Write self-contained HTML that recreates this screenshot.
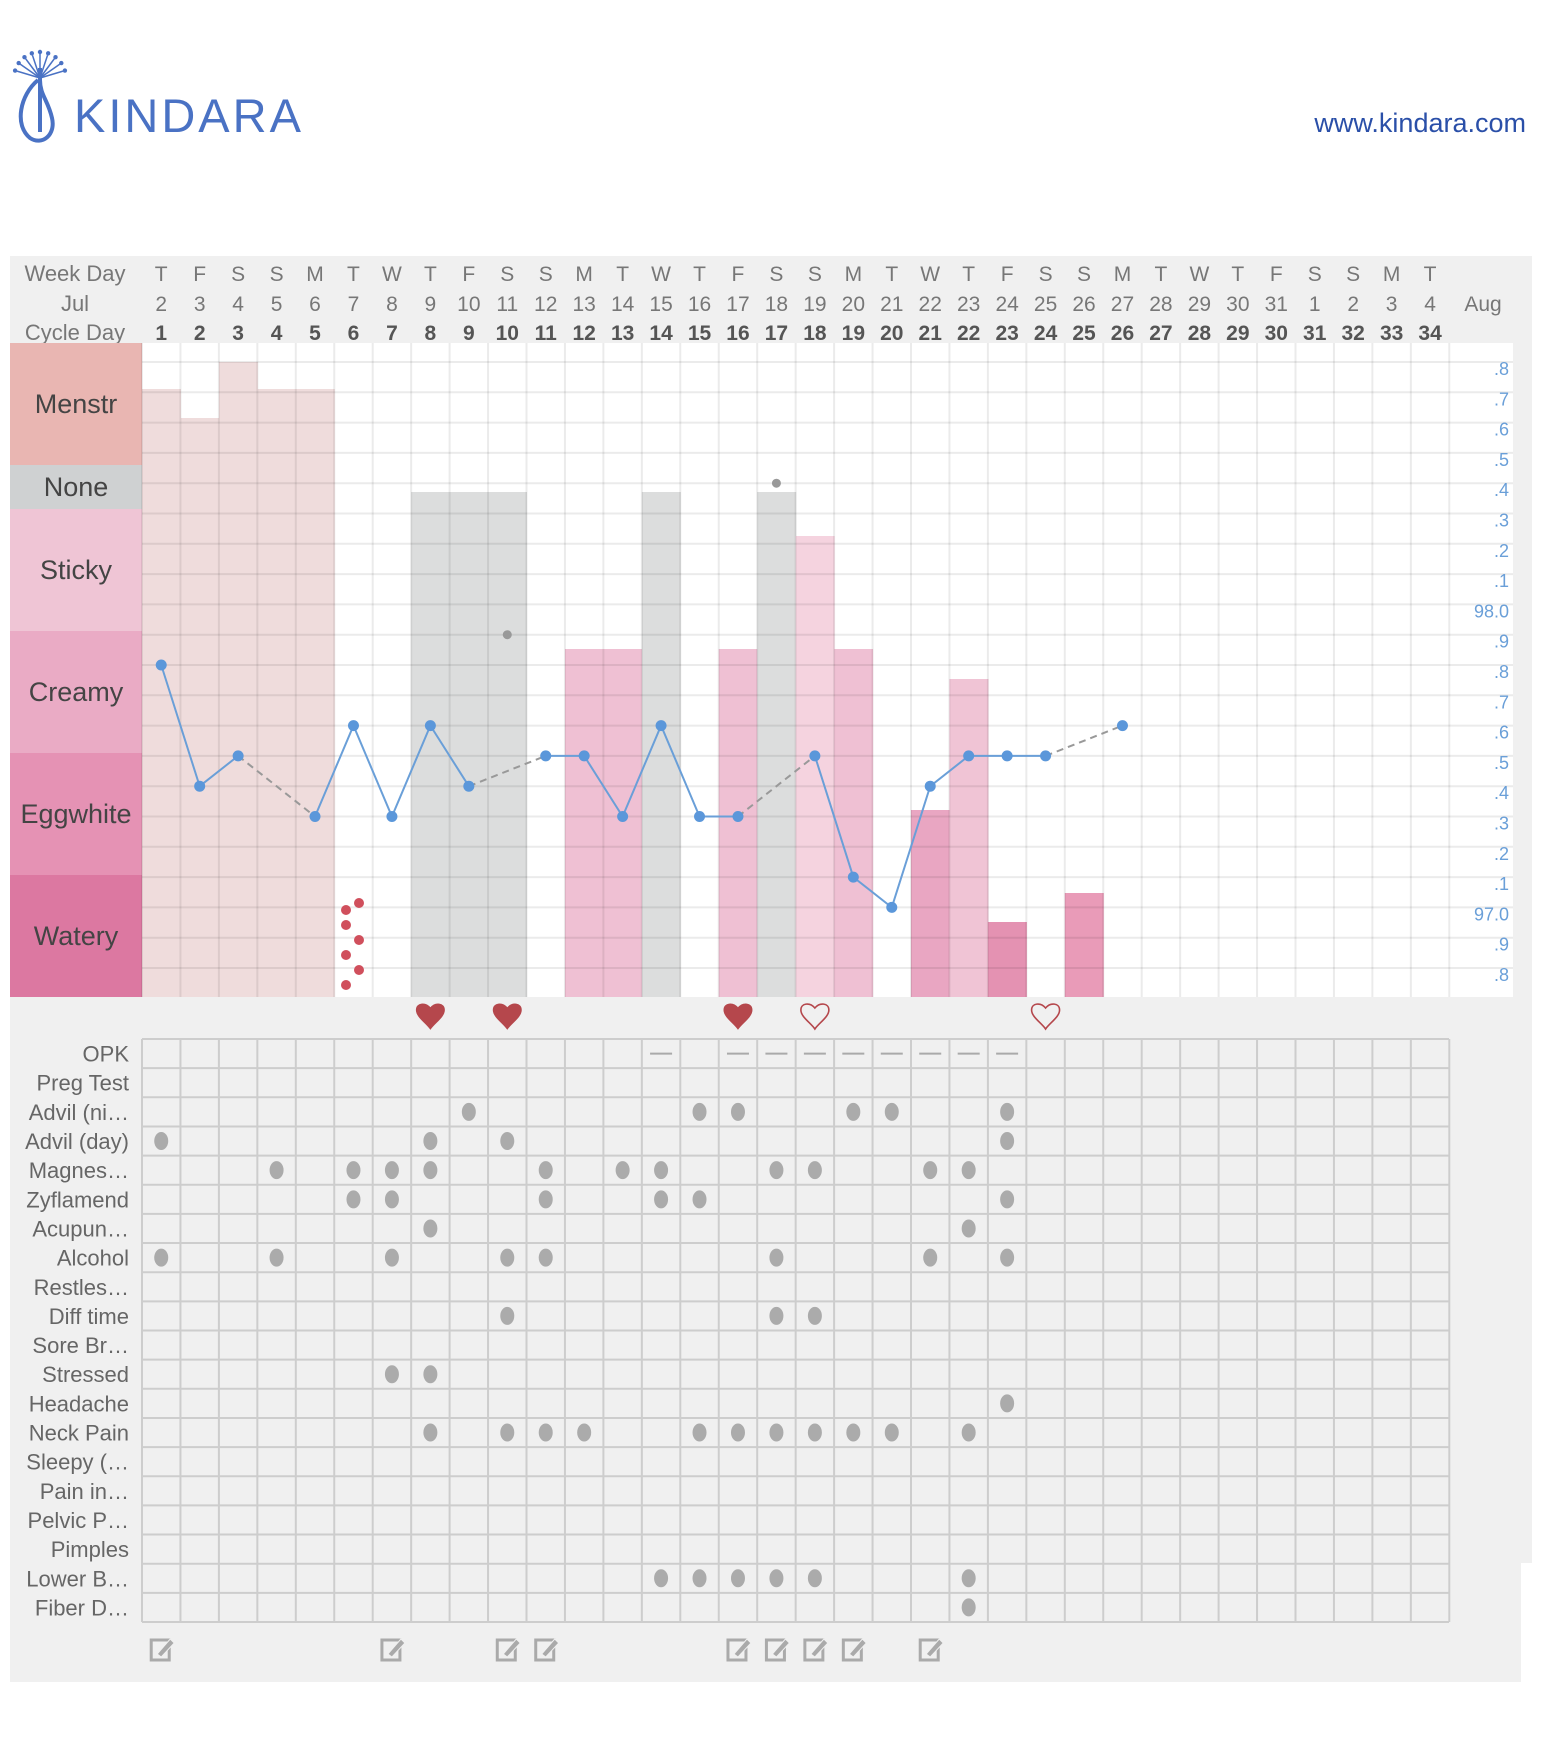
<!DOCTYPE html>
<html><head><meta charset="utf-8"><style>
body{margin:0;background:#fff;width:1541px;height:1737px;overflow:hidden;font-family:"Liberation Sans",sans-serif}
svg{display:block}
</style></head><body>
<svg id="s" width="1541" height="1737" xmlns="http://www.w3.org/2000/svg" font-family="Liberation Sans, sans-serif"></svg>
<script>
const S=document.getElementById('s');let h='';
const X0=142,CW=38.45,cx=d=>X0+(d-0.5)*CW;
// logo
h+=`<g fill="none" stroke="#4a72c4" stroke-width="4"><path d="M38 80 C20 95 14 125 30 138 C42 146 56 135 52 118 C48 100 40 95 40 80"/><line x1="40" y1="68" x2="40" y2="132"/></g>`;
for(let i=0;i<9;i++){const a=-Math.PI/2+(i-4)*0.32;h+=`<line x1="40" y1="78" x2="${40+Math.cos(a)*24}" y2="${78+Math.sin(a)*24}" stroke="#4a72c4" stroke-width="1.5"/><circle cx="${40+Math.cos(a)*26}" cy="${78+Math.sin(a)*26}" r="2.2" fill="#4a72c4"/>`;}
h+=`<text x="74" y="132" font-size="47" fill="#4a72c4" letter-spacing="3" font-weight="300">KINDARA</text>`;
h+=`<text x="1526" y="132" font-size="27" fill="#2a4fa8" text-anchor="end">www.kindara.com</text>`;
// panel
h+=`<rect x="10" y="256" width="1522" height="1307" fill="#f0f0f0"/><rect x="10" y="1560" width="1511" height="122" fill="#f0f0f0"/>`;
// header
const wd="TFSSMTW";
h+=`<g font-size="22" fill="#777"><text x="75" y="281" text-anchor="middle">Week Day</text><text x="75" y="311" text-anchor="middle">Jul</text><text x="75" y="340" text-anchor="middle">Cycle Day</text>`;
for(let d=1;d<=34;d++){const c=cx(d);const dt=d<=30?d+1:d-30;
h+=`<text x="${c}" y="281" text-anchor="middle" font-size="21">${wd[(d-1)%7]}</text><text x="${c}" y="311" text-anchor="middle" font-size="21">${dt}</text><text x="${c}" y="340" text-anchor="middle" font-size="21" font-weight="bold" fill="#555">${d}</text>`;}
h+=`<text x="1483" y="311" text-anchor="middle" font-size="21">Aug</text></g>`;
// chart area
h+=`<rect x="142" y="343" width="1371" height="654" fill="#fff"/>`;
const bands=[["Menstr",343,465,"#e9b6b2"],["None",465,509,"#cfd1d2"],["Sticky",509,631,"#efc5d5"],["Creamy",631,753,"#eaabc5"],["Eggwhite",753,875,"#e592b4"],["Watery",875,997,"#dc78a1"]];
bands.forEach(b=>{h+=`<rect x="10" y="${b[1]}" width="132" height="${b[2]-b[1]}" fill="${b[3]}"/><text x="76" y="${(b[1]+b[2])/2+9}" text-anchor="middle" font-size="27" fill="#444">${b[0]}</text>`;});
const bars={1:[389,"#efdcdc"],2:[418,"#efdcdc"],3:[362,"#efdcdc"],4:[389,"#efdcdc"],5:[389,"#efdcdc"],8:[492,"#dcdddd"],9:[492,"#dcdddd"],10:[492,"#dcdddd"],12:[649,"#efc0d3"],13:[649,"#efc0d3"],14:[492,"#dcdddd"],16:[649,"#efc0d3"],17:[492,"#dcdddd"],18:[536,"#f5d3df"],19:[649,"#efc0d3"],21:[810,"#e9a6c2"],22:[679,"#f0c4d5"],23:[922,"#e492b2"],25:[893,"#e99bb8"]};
for(const d in bars){h+=`<rect x="${X0+(d-1)*CW}" y="${bars[d][0]}" width="${CW+0.5}" height="${997-bars[d][0]}" fill="${bars[d][1]}"/>`;}
// grid
h+=`<g stroke="#000" stroke-opacity="0.08" stroke-width="2">`;
for(let d=0;d<=34;d++)h+=`<line x1="${X0+d*CW}" y1="343" x2="${X0+d*CW}" y2="997"/>`;
for(let i=0;i<21;i++){const y=362+i*30.3;h+=`<line x1="142" y1="${y}" x2="1513" y2="${y}"/>`;}
h+=`</g>`;
// temp labels
const tl=[".8",".7",".6",".5",".4",".3",".2",".1","98.0",".9",".8",".7",".6",".5",".4",".3",".2",".1","97.0",".9",".8"];
tl.forEach((t,i)=>{h+=`<text x="1509" y="${362+i*30.3+13}" text-anchor="end" font-size="18" fill="#6a9fd8">${t}</text>`;});
// spotting
[[346,910],[359,903],[346,925],[359,940],[346,955],[359,970],[346,985]].forEach(p=>h+=`<circle cx="${p[0]}" cy="${p[1]}" r="5" fill="#d04f5c"/>`);
// temps
const ty=t=>362+(98.8-t)*303;
const T={1:97.8,2:97.4,3:97.5,5:97.3,6:97.6,7:97.3,8:97.6,9:97.4,11:97.5,12:97.5,13:97.3,14:97.6,15:97.3,16:97.3,18:97.5,19:97.1,20:97.0,21:97.4,22:97.5,23:97.5,24:97.5,26:97.6};
const segs=[[1,2,3],[5,6,7,8,9],[11,12,13,14,15,16],[18,19,20,21,22,23,24]];
segs.forEach(s=>{h+=`<polyline fill="none" stroke="#6a9fd8" stroke-width="2" points="${s.map(d=>cx(d)+','+ty(T[d])).join(' ')}"/>`;});
[[3,5],[9,11],[16,18],[24,26]].forEach(p=>{h+=`<line x1="${cx(p[0])}" y1="${ty(T[p[0]])}" x2="${cx(p[1])}" y2="${ty(T[p[1]])}" stroke="#999" stroke-width="2" stroke-dasharray="7,5"/>`;});
for(const d in T)h+=`<circle cx="${cx(+d)}" cy="${ty(T[d])}" r="5.5" fill="#5b97da"/>`;
h+=`<circle cx="${cx(10)}" cy="${ty(97.9)}" r="4.5" fill="#999"/><circle cx="${cx(17)}" cy="${ty(98.4)}" r="4.5" fill="#999"/>`;
// hearts
const heart=(d,f)=>{const x=cx(d),y=1005;return `<path d="M${x} ${y+24} C${x-4} ${y+18} ${x-14} ${y+12} ${x-14} ${y+5} C${x-14} ${y-2} ${x-5} ${y-3} ${x} ${y+3} C${x+5} ${y-3} ${x+14} ${y-2} ${x+14} ${y+5} C${x+14} ${y+12} ${x+4} ${y+18} ${x} ${y+24}Z" fill="${f?'#b5474c':'none'}" stroke="#b5474c" stroke-width="${f?1:1.6}"/>`;};
h+=heart(8,1)+heart(10,1)+heart(16,1)+heart(18,0)+heart(24,0);
// symptom grid
const GY=1039,RH=29.15;
const rows=[["OPK",[]],["Preg Test",[]],["Advil (ni…",[9,15,16,19,20,23]],["Advil (day)",[1,8,10,23]],["Magnes…",[4,6,7,8,11,13,14,17,18,21,22]],["Zyflamend",[6,7,11,14,15,23]],["Acupun…",[8,22]],["Alcohol",[1,4,7,10,11,17,21,23]],["Restles…",[]],["Diff time",[10,17,18]],["Sore Br…",[]],["Stressed",[7,8]],["Headache",[23]],["Neck Pain",[8,10,11,12,15,16,17,18,19,20,22]],["Sleepy (…",[]],["Pain in…",[]],["Pelvic P…",[]],["Pimples",[]],["Lower B…",[14,15,16,17,18,22]],["Fiber D…",[22]]];
h+=`<g stroke="#cdcdcd" stroke-width="2">`;
for(let d=0;d<=34;d++)h+=`<line x1="${X0+d*CW}" y1="${GY}" x2="${X0+d*CW}" y2="${GY+20*RH}"/>`;
for(let i=0;i<=20;i++)h+=`<line x1="142" y1="${GY+i*RH}" x2="1449" y2="${GY+i*RH}"/>`;
h+=`</g>`;
rows.forEach((r,i)=>{const y=GY+i*RH+RH/2;h+=`<text x="129" y="${y+8}" text-anchor="end" font-size="22" fill="#666">${r[0]}</text>`;
r[1].forEach(d=>h+=`<ellipse cx="${cx(d)}" cy="${y}" rx="7" ry="9" fill="#ababab"/>`);});
[14,16,17,18,19,20,21,22,23].forEach(d=>h+=`<line x1="${cx(d)-11}" y1="${GY+RH/2}" x2="${cx(d)+11}" y2="${GY+RH/2}" stroke="#aaa" stroke-width="2"/>`);
// notes
[1,7,10,11,16,17,18,19,21].forEach(d=>{const x=cx(d)-10,y=1640;h+=`<rect x="${x}" y="${y}" width="18" height="20" fill="none" stroke="#aaa" stroke-width="3"/><path d="M${x+6} ${y+14} L${x+19} ${y-1} L${x+23} ${y+3} L${x+10} ${y+17}Z" fill="#aaa" stroke="#f0f0f0" stroke-width="1"/>`;});
S.innerHTML=h;
</script>
</body></html>
